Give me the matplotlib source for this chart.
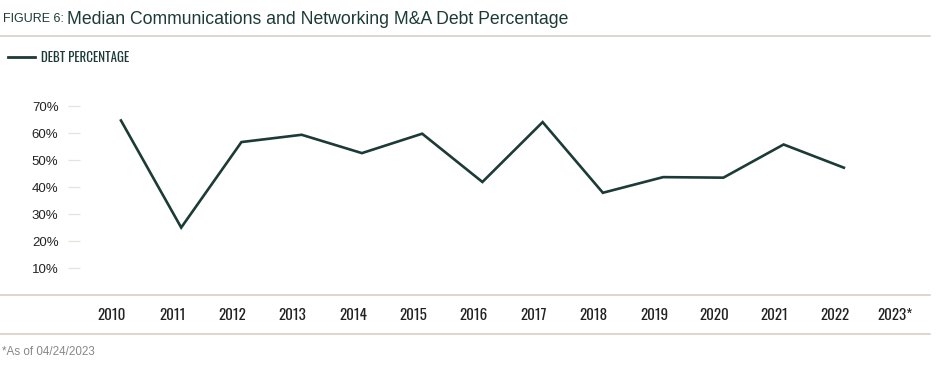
import numpy as np
import matplotlib
matplotlib.use('Agg')
import matplotlib.pyplot as plt
import matplotlib.transforms as mtransforms
from matplotlib.lines import Line2D

# ---------------- data ----------------
years = ['2010', '2011', '2012', '2013', '2014', '2015', '2016',
         '2017', '2018', '2019', '2020', '2021', '2022', '2023*']
debt_pct = [64.7, 25.0, 56.7, 59.4, 52.6, 59.8, 41.9,
            64.1, 37.9, 43.7, 43.5, 55.8, 47.2]   # 2023* has no value
y_ticks = [10, 20, 30, 40, 50, 60, 70]

GREEN = '#1c3b36'
RULE = '#d9d0c5'
TEXT = '#222222'
# condensed face for the year labels / legend, falls back if missing
COND = ['Oswald', 'Roboto Condensed', 'Liberation Sans', 'DejaVu Sans']
SANS = ['Liberation Sans', 'DejaVu Sans']

W, H = 945, 370
fig = plt.figure(figsize=(W / 100, H / 100), dpi=100)


def fx(px):
    return px / W


def fy(py):
    return 1 - py / H


# axes: left edge 80 px, right 930 px, top 90 px, bottom 295 px
ax = fig.add_axes([fx(80), fy(295), fx(930) - fx(80), fy(90) - fy(295)])
x = np.arange(len(debt_pct))
ax.plot(x, debt_pct, color=GREEN, lw=1.9, solid_joinstyle='miter')

ax.set_xlim(-0.68, 13.43)
ax.set_ylim(0, 76)
for s in ax.spines.values():
    s.set_visible(False)

ax.set_yticks(y_ticks)
ax.set_yticklabels(['%d%%' % v for v in y_ticks], fontsize=9.5, color=TEXT,
                   family=SANS)
ax.tick_params(axis='y', direction='out', length=8.5, width=0.9,
               color='#e6e3dc', pad=7)

ax.set_xticks(np.arange(len(years)))
ax.set_xticklabels(years, fontsize=10.8, color=TEXT, family=COND,
                   fontweight='bold')
ax.tick_params(axis='x', length=0, pad=9)
shift = mtransforms.ScaledTranslation(-9 / 100, 0, fig.dpi_scale_trans)
for lab in ax.get_xticklabels():
    lab.set_transform(lab.get_transform() + shift)

# horizontal rules
for py in (36, 295, 334):
    fig.add_artist(Line2D([0, fx(930)], [fy(py), fy(py)], color=RULE, lw=1.2,
                          transform=fig.transFigure))

# title
fig.text(fx(3), fy(19), 'FIGURE 6:', fontsize=9, color=GREEN,
         family=SANS, va='center')
fig.text(fx(67), fy(19), 'Median Communications and Networking M&A Debt Percentage',
         fontsize=12.7, color=GREEN, family=SANS, va='center')

# legend
fig.add_artist(Line2D([fx(8), fx(35)], [fy(57), fy(57)], color=GREEN, lw=2,
                      transform=fig.transFigure))
fig.text(fx(41), fy(57), 'DEBT PERCENTAGE', fontsize=9.3, color=GREEN,
         family=COND, fontweight='bold', va='center')

# footnote
fig.text(fx(2), fy(352), '*As of 04/24/2023', fontsize=8.4, color='#888888',
         family=SANS, va='center')

fig.savefig('out.png', dpi=100)
plt.close(fig)
